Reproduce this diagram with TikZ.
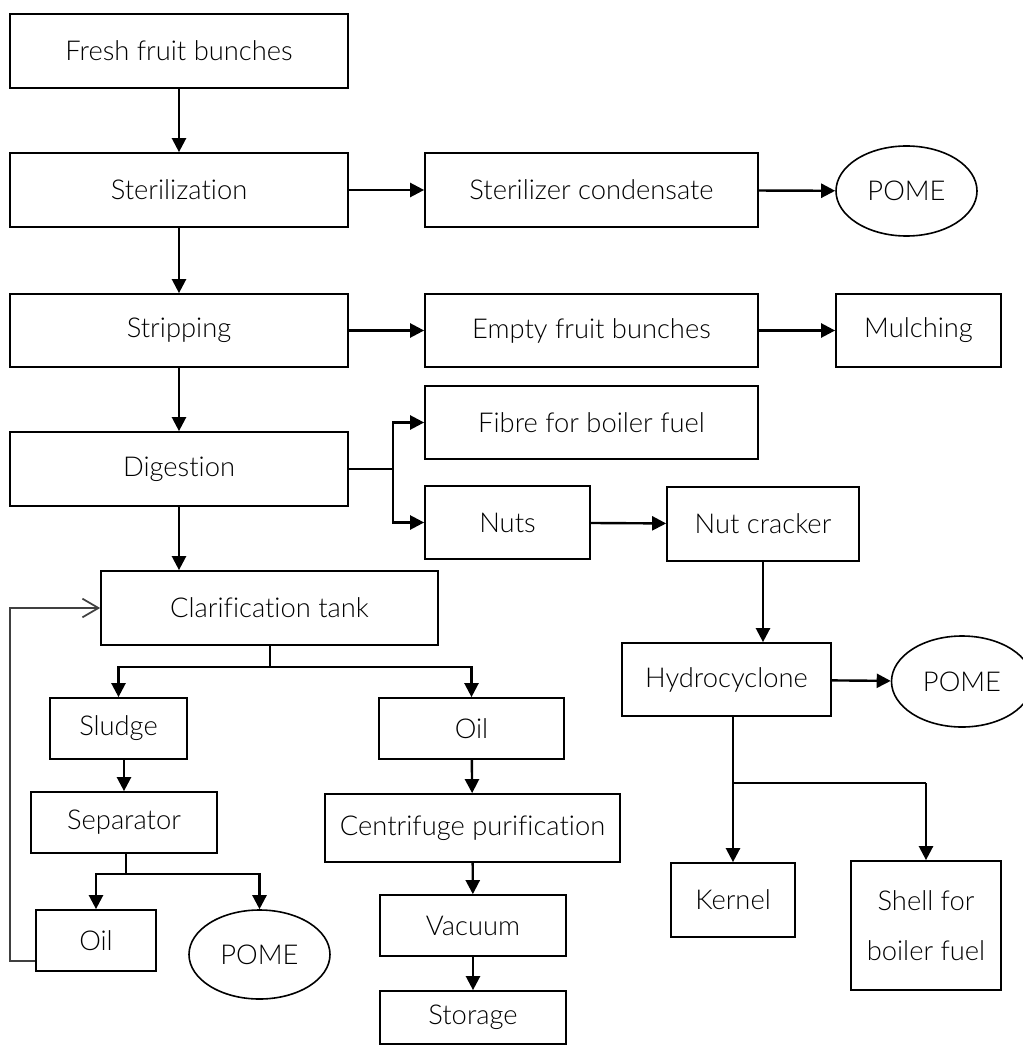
\documentclass[tikz,border=0pt]{standalone}
\usepackage{fontspec}
\newfontfamily\lightfont[Ligatures={NoCommon}]{Lato Light}
\usetikzlibrary{arrows.meta,shapes.geometric}
\begin{document}
\begin{tikzpicture}[x=0.75pt,y=-0.75pt,
  every node/.style={font=\lightfont\fontsize{20.5}{38}\selectfont, inner sep=0pt},
  bx/.style n args={2}{draw, line width=1.3pt, rectangle, minimum width={#1*0.75pt}, minimum height={#2*0.75pt}, align=center},
  el/.style n args={2}{draw, line width=1.2pt, ellipse, minimum width={#1*0.75pt}, minimum height={#2*0.75pt}},
  arr/.style={line width=1.8pt, -{Triangle[length=10.5pt,width=10.5pt]}},
  thin line/.style={line width=0.9pt},
  back/.style={line width=0.9pt, draw=black!75, -{Straight Barb[length=12pt,width=14pt,line width=1.3pt]}}
]
\useasboundingbox (0,0) rectangle (1023,1048);
% left column
\node[bx={338}{74}] (ffb) at (179,51) {Fresh fruit bunches};
\node[bx={338}{74}] (ster) at (179,190) {Sterilization};
\node[bx={338}{73}] (strip) at (179,330.5) {Stripping};
\node[bx={338}{74}] (dig) at (179,469) {Digestion};
% right of top
\node[bx={333}{74}] (cond) at (591.5,190) {Sterilizer condensate};
\node[el={141}{90}] (pome1) at (906.5,191) {POME};
\node[bx={333}{73}] (efb) at (591.5,330.5) {Empty fruit bunches};
\node[bx={165}{73}] (mulch) at (918.5,330.5) {Mulching};
\node[bx={333}{73}] (fibre) at (591.5,422.5) {Fibre for boiler fuel};
\node[bx={165}{73}] (nuts) at (507.5,522.5) {Nuts};
\node[bx={192}{74}] (crack) at (763,524) {Nut cracker};
% clarification
\node[bx={337}{74}] (clar) at (269.5,608) {Clarification tank};
\node[bx={137}{61}] (sludge) at (118.5,728.5) {Sludge};
\node[bx={186}{61}] (sep) at (124,822.5) {Separator};
\node[bx={120}{61}] (oil2) at (96,940.5) {Oil};
\node[el={141}{89}] (pome3) at (259.5,954.5) {POME};
\node[bx={185}{61}] (oil1) at (471.5,728.5) {Oil};
\node[bx={295}{68}] (cent) at (472.5,828) {Centrifuge purification};
\node[bx={186}{61}] (vac) at (473,925.5) {Vacuum};
\node[bx={186}{53}] (stor) at (473,1017.5) {Storage};
% hydrocyclone
\node[bx={209}{73}] (hydro) at (726.5,679.5) {Hydrocyclone};
\node[el={141}{91}] (pome2) at (962,681.5) {POME};
\node[bx={124}{74}] (kernel) at (733,900) {Kernel};
\node[bx={150}{129}] (shell) at (926,925.5) {Shell for\\boiler fuel};
% junctions
\coordinate (jd) at (393,469);
\coordinate (jc) at (270,667);
\coordinate (js) at (126,874);
\coordinate (jh) at (733,783);
\coordinate (jb) at (10,961);
% main chain
\draw[arr] (ffb) -- (ster);
\draw[arr] (ster) -- (strip);
\draw[arr] (strip) -- (dig);
\draw[arr] (dig.south) -- (dig.south |- clar.north);
\draw[arr] (ster) -- (cond);
\draw[arr] (cond) -- (pome1);
\draw[arr] (strip) -- (efb);
\draw[arr] (efb) -- (mulch);
% digestion branch
\draw[thin line] (dig.east) -- (jd);
\draw[arr] (jd) |- (fibre.west);
\draw[arr] (jd) |- (nuts.west);
\draw[arr] (nuts) -- (crack);
\draw[arr] (crack.south) -- (crack.south |- hydro.north);
\draw[arr] (hydro) -- (pome2);
% hydrocyclone branch
\draw[arr] (kernel.north |- hydro.south) -- (kernel.north);
\draw[thin line] (jh) -- (jh -| shell.north);
\draw[arr] (jh -| shell.north) -- (shell.north);
% clarification branch
\draw[thin line] (clar.south -| jc) -- (jc);
\draw[arr] (jc) -| (sludge.north);
\draw[arr] (jc) -| (oil1.north);
\draw[arr] (sep.north |- sludge.south) -- (sep.north);
\draw[thin line] (sep.south -| js) -- (js);
\draw[arr] (js) -| (oil2.north);
\draw[arr] (js) -| (pome3.north);
\draw[arr] (oil1) -- (cent);
\draw[arr] (cent) -- (vac);
\draw[arr] (vac) -- (stor);
% feedback
\draw[back] (oil2.west |- jb) -- (jb) |- (clar.west);
\end{tikzpicture}
\end{document}
